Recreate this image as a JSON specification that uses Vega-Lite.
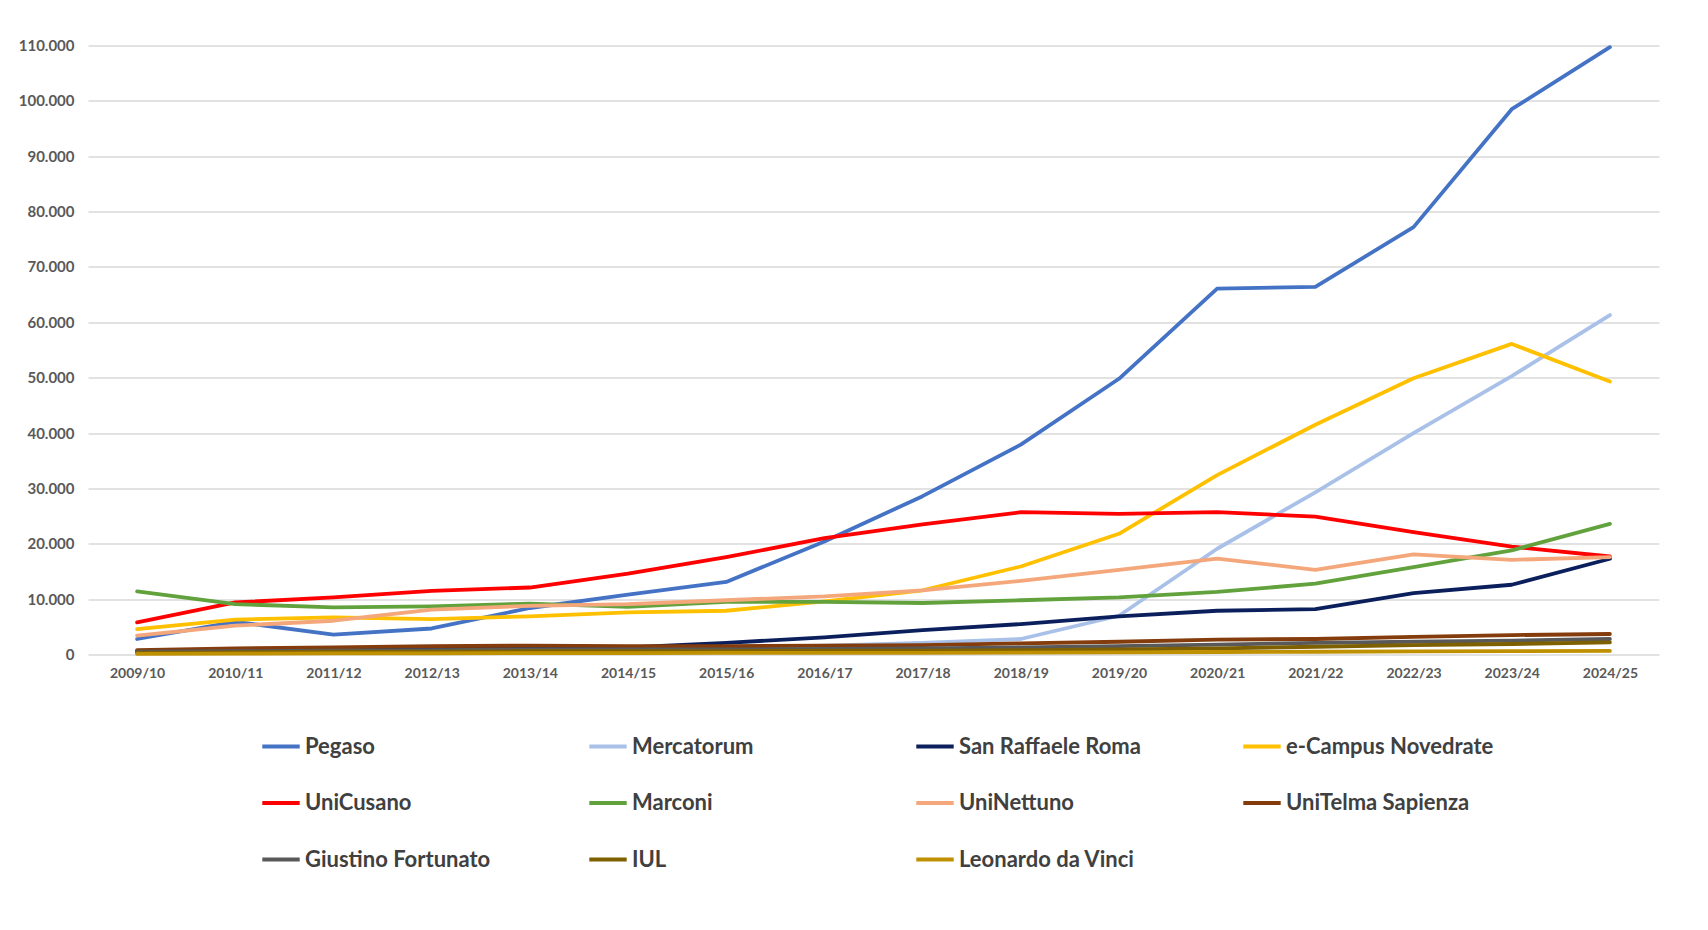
{
  "$schema": "https://vega.github.io/schema/vega-lite/v6.json",
  "width": 1571,
  "height": 609,
  "autosize": {"type": "none"},
  "padding": {"left": 88, "top": 45.5, "right": 49, "bottom": 275.5},
  "background": "white",
  "config": {"view": {"stroke": null}, "font": "Lato"},
  "data": {
    "values": [
      {"anno": "2009/10", "Pegaso": 2800, "Mercatorum": 500, "San Raffaele Roma": 600, "e-Campus Novedrate": 4600, "UniCusano": 5800, "Marconi": 11400, "UniNettuno": 3400, "UniTelma Sapienza": 800, "Giustino Fortunato": 500, "IUL": 300, "Leonardo da Vinci": 100},
      {"anno": "2010/11", "Pegaso": 5900, "Mercatorum": 600, "San Raffaele Roma": 800, "e-Campus Novedrate": 6300, "UniCusano": 9400, "Marconi": 9100, "UniNettuno": 5200, "UniTelma Sapienza": 1100, "Giustino Fortunato": 600, "IUL": 400, "Leonardo da Vinci": 150},
      {"anno": "2011/12", "Pegaso": 3600, "Mercatorum": 700, "San Raffaele Roma": 900, "e-Campus Novedrate": 6700, "UniCusano": 10300, "Marconi": 8500, "UniNettuno": 6100, "UniTelma Sapienza": 1300, "Giustino Fortunato": 700, "IUL": 500, "Leonardo da Vinci": 200},
      {"anno": "2012/13", "Pegaso": 4700, "Mercatorum": 800, "San Raffaele Roma": 1000, "e-Campus Novedrate": 6400, "UniCusano": 11500, "Marconi": 8700, "UniNettuno": 8100, "UniTelma Sapienza": 1500, "Giustino Fortunato": 800, "IUL": 500, "Leonardo da Vinci": 200},
      {"anno": "2013/14", "Pegaso": 8400, "Mercatorum": 900, "San Raffaele Roma": 1100, "e-Campus Novedrate": 6900, "UniCusano": 12100, "Marconi": 9200, "UniNettuno": 8800, "UniTelma Sapienza": 1600, "Giustino Fortunato": 900, "IUL": 600, "Leonardo da Vinci": 250},
      {"anno": "2014/15", "Pegaso": 10800, "Mercatorum": 1000, "San Raffaele Roma": 1300, "e-Campus Novedrate": 7600, "UniCusano": 14600, "Marconi": 8600, "UniNettuno": 9100, "UniTelma Sapienza": 1500, "Giustino Fortunato": 900, "IUL": 600, "Leonardo da Vinci": 250},
      {"anno": "2015/16", "Pegaso": 13100, "Mercatorum": 1300, "San Raffaele Roma": 2100, "e-Campus Novedrate": 7900, "UniCusano": 17600, "Marconi": 9500, "UniNettuno": 9800, "UniTelma Sapienza": 1500, "Giustino Fortunato": 900, "IUL": 600, "Leonardo da Vinci": 300},
      {"anno": "2016/17", "Pegaso": 20400, "Mercatorum": 1600, "San Raffaele Roma": 3100, "e-Campus Novedrate": 9600, "UniCusano": 21000, "Marconi": 9500, "UniNettuno": 10500, "UniTelma Sapienza": 1600, "Giustino Fortunato": 1000, "IUL": 700, "Leonardo da Vinci": 300},
      {"anno": "2017/18", "Pegaso": 28600, "Mercatorum": 2100, "San Raffaele Roma": 4400, "e-Campus Novedrate": 11600, "UniCusano": 23500, "Marconi": 9300, "UniNettuno": 11600, "UniTelma Sapienza": 1700, "Giustino Fortunato": 1100, "IUL": 700, "Leonardo da Vinci": 300},
      {"anno": "2018/19", "Pegaso": 37900, "Mercatorum": 2800, "San Raffaele Roma": 5500, "e-Campus Novedrate": 15900, "UniCusano": 25700, "Marconi": 9800, "UniNettuno": 13300, "UniTelma Sapienza": 2000, "Giustino Fortunato": 1300, "IUL": 800, "Leonardo da Vinci": 350},
      {"anno": "2019/20", "Pegaso": 49800, "Mercatorum": 7000, "San Raffaele Roma": 6900, "e-Campus Novedrate": 21800, "UniCusano": 25400, "Marconi": 10300, "UniNettuno": 15300, "UniTelma Sapienza": 2300, "Giustino Fortunato": 1500, "IUL": 900, "Leonardo da Vinci": 400},
      {"anno": "2020/21", "Pegaso": 66100, "Mercatorum": 19100, "San Raffaele Roma": 7900, "e-Campus Novedrate": 32400, "UniCusano": 25700, "Marconi": 11300, "UniNettuno": 17300, "UniTelma Sapienza": 2700, "Giustino Fortunato": 1800, "IUL": 1100, "Leonardo da Vinci": 450},
      {"anno": "2021/22", "Pegaso": 66400, "Mercatorum": 29300, "San Raffaele Roma": 8200, "e-Campus Novedrate": 41500, "UniCusano": 24900, "Marconi": 12800, "UniNettuno": 15300, "UniTelma Sapienza": 2800, "Giustino Fortunato": 2100, "IUL": 1400, "Leonardo da Vinci": 500},
      {"anno": "2022/23", "Pegaso": 77200, "Mercatorum": 40000, "San Raffaele Roma": 11100, "e-Campus Novedrate": 49900, "UniCusano": 22100, "Marconi": 15800, "UniNettuno": 18100, "UniTelma Sapienza": 3200, "Giustino Fortunato": 2300, "IUL": 1700, "Leonardo da Vinci": 550},
      {"anno": "2023/24", "Pegaso": 98500, "Mercatorum": 50300, "San Raffaele Roma": 12600, "e-Campus Novedrate": 56100, "UniCusano": 19500, "Marconi": 18800, "UniNettuno": 17100, "UniTelma Sapienza": 3500, "Giustino Fortunato": 2500, "IUL": 1900, "Leonardo da Vinci": 600},
      {"anno": "2024/25", "Pegaso": 109700, "Mercatorum": 61300, "San Raffaele Roma": 17300, "e-Campus Novedrate": 49300, "UniCusano": 17700, "Marconi": 23600, "UniNettuno": 17600, "UniTelma Sapienza": 3700, "Giustino Fortunato": 2800, "IUL": 2200, "Leonardo da Vinci": 650}
    ]
  },
  "transform": [
    {"fold": ["Pegaso", "Mercatorum", "San Raffaele Roma", "e-Campus Novedrate", "UniCusano", "Marconi", "UniNettuno", "UniTelma Sapienza", "Giustino Fortunato", "IUL", "Leonardo da Vinci"], "as": ["universita", "iscritti"]}
  ],
  "mark": {"type": "line", "strokeWidth": 3.8, "strokeCap": "round", "strokeJoin": "round"},
  "encoding": {
    "x": {
      "field": "anno",
      "type": "ordinal",
      "sort": null,
      "scale": {"type": "point", "padding": 0.5},
      "axis": {
        "title": null,
        "labelAngle": 0,
        "domain": false,
        "ticks": false,
        "grid": false,
        "labelFont": "Lato",
        "labelFontWeight": "bold",
        "labelFontSize": 14,
        "labelColor": "#595959",
        "labelPadding": 12
      }
    },
    "y": {
      "field": "iscritti",
      "type": "quantitative",
      "scale": {"domain": [0, 110000], "nice": false},
      "axis": {
        "title": null,
        "values": [0, 10000, 20000, 30000, 40000, 50000, 60000, 70000, 80000, 90000, 100000, 110000],
        "labelExpr": "replace(format(datum.value, ','), ',', '.')",
        "domain": false,
        "ticks": false,
        "grid": true,
        "gridColor": "#D9D9D9",
        "gridWidth": 1.3,
        "labelFont": "Lato",
        "labelFontWeight": "bold",
        "labelFontSize": 15,
        "labelColor": "#595959",
        "labelPadding": 14
      }
    },
    "color": {
      "field": "universita",
      "type": "nominal",
      "sort": null,
      "scale": {
        "domain": ["Pegaso", "Mercatorum", "San Raffaele Roma", "e-Campus Novedrate", "UniCusano", "Marconi", "UniNettuno", "UniTelma Sapienza", "Giustino Fortunato", "IUL", "Leonardo da Vinci"],
        "range": ["#4472C4", "#A9C1E8", "#0B1F5C", "#FFC000", "#FF0000", "#62A23D", "#F4A77A", "#843C0C", "#595959", "#7F6000", "#BF9000"]
      },
      "legend": {
        "title": null,
        "orient": "none",
        "direction": "horizontal",
        "legendX": 172,
        "legendY": 680,
        "columns": 4,
        "gridAlign": "all",
        "symbolType": "stroke",
        "symbolSize": 1400,
        "symbolStrokeWidth": 4,
        "labelFont": "Lato",
        "labelFontWeight": "bold",
        "labelFontSize": 22,
        "labelColor": "#404040",
        "labelOffset": 3,
        "labelLimit": 400,
        "columnPadding": 68,
        "rowPadding": 24.5
      }
    }
  }
}
